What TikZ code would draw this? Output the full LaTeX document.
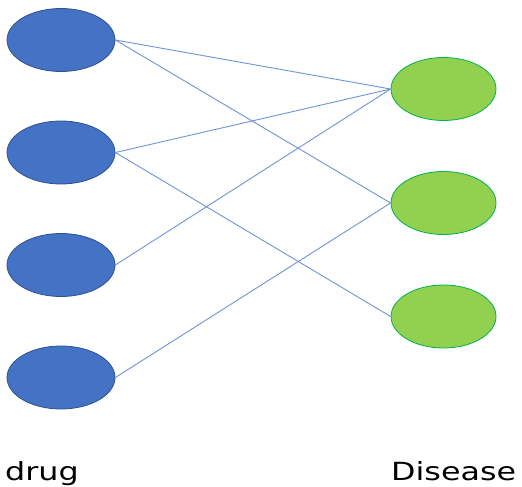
\documentclass[tikz,border=0pt]{standalone}
\usepackage{fontspec}
\usepackage{tikz}
\usetikzlibrary{shapes.geometric}
\newfontfamily\labelfont[FakeStretch=1.27]{DejaVu Sans}
\definecolor{drugblue}{HTML}{4472C4}
\definecolor{drugedge}{HTML}{2F528F}
\definecolor{disgreen}{HTML}{92D050}
\definecolor{disedge}{HTML}{00B050}
\definecolor{linkblue}{HTML}{6E93D6}
\tikzset{
    drug/.style={ellipse, fill=drugblue, draw=drugedge, line width=0.8pt,
        minimum width=108pt, minimum height=63pt, inner sep=0pt},
    disease/.style={ellipse, fill=disgreen, draw=disedge, line width=0.8pt,
        minimum width=105pt, minimum height=63pt, inner sep=0pt},
    link/.style={linkblue, line width=0.9pt},
    caption/.style={font=\labelfont\fontsize{25}{30}\selectfont, inner sep=0pt},
}

\begin{document}
\begin{tikzpicture}[x=1pt,y=-1pt]
\useasboundingbox (0,0) rectangle (522,487);
\node[drug] (d1) at (61,40) {};
\node[drug] (d2) at (61,152.5) {};
\node[drug] (d3) at (61,265) {};
\node[drug] (d4) at (61,377.5) {};
\node[disease] (s1) at (443.5,89) {};
\node[disease] (s2) at (443.5,203) {};
\node[disease] (s3) at (443.5,316.5) {};

\draw[link] (d1.east) -- (s1.west);
\draw[link] (d1.east) -- (s2.west);
\draw[link] (d2.east) -- (s1.west);
\draw[link] (d2.east) -- (s3.west);
\draw[link] (d3.east) -- (s1.west);
\draw[link] (d4.east) -- (s2.west);

\node[caption, anchor=base west] (druglabel) at (5,480) {drug};
\node[caption, anchor=base west] (diseaselabel) at (391,480) {Disease};
\end{tikzpicture}
\end{document}
